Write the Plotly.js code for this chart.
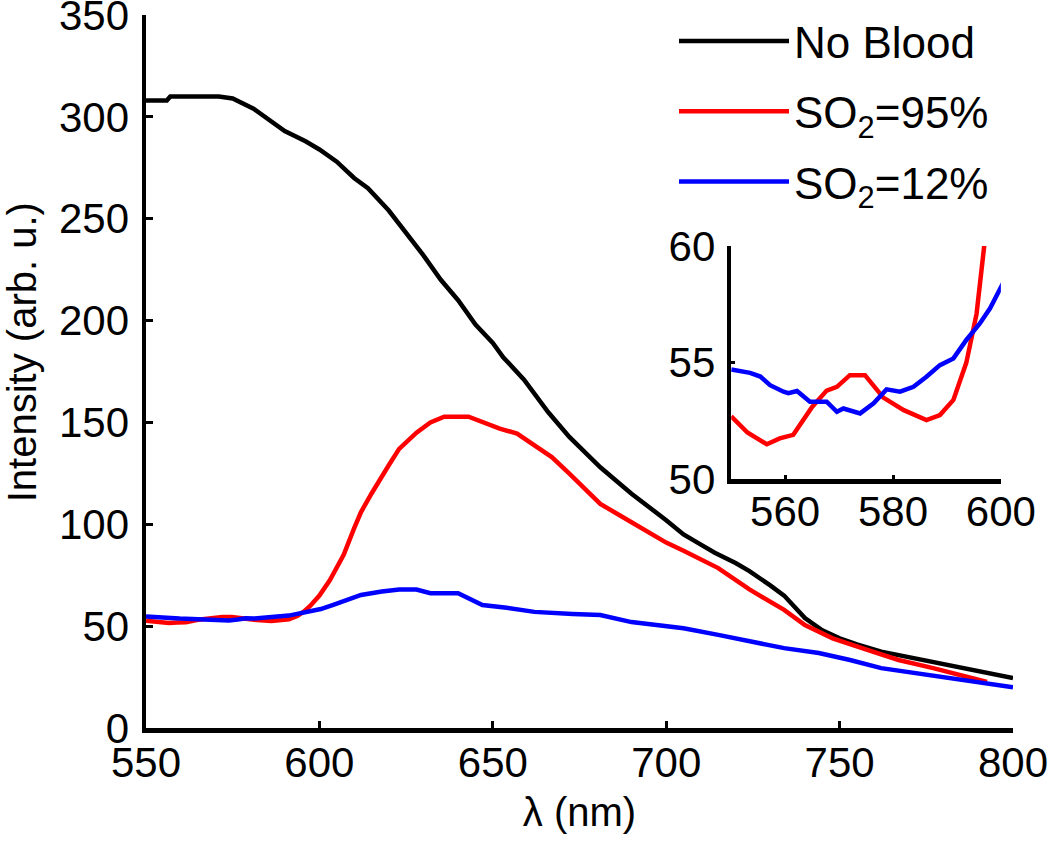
<!DOCTYPE html>
<html>
<head>
<meta charset="utf-8">
<script src="https://cdn.plot.ly/plotly-3.0.1.min.js"></script>
<style>html,body{margin:0;padding:0;background:#fff;}#chart{width:1050px;height:843px;}</style>
</head>
<body>
<div id="chart"></div>
<script>
// Wavelength (nm) and intensity (arb. u.)
const lambdaNoBlood = [550, 556, 557, 571, 575, 581, 590, 596, 600, 605, 610, 614, 620, 625, 630, 635, 640, 645, 650, 653, 659, 666, 672, 681, 690, 700, 705, 710, 714, 720, 724, 730, 734, 740, 745, 750, 755, 762, 772, 782, 791, 800];
const noBlood = [308, 308, 310, 310, 309, 304, 293, 288, 284, 278, 270, 265, 254, 243, 232, 220, 210, 198, 189, 182, 171, 155, 143, 128, 115, 102, 95, 90, 86, 81, 77, 70, 65, 54, 48, 44, 41, 37.5, 34, 31, 27.5, 24.5];

const lambdaSO2_95 = [550, 553, 556.6, 559, 561.5, 565, 567.7, 569.6, 572, 574.8, 578.2, 582, 586.2, 588.7, 591.2, 593.6, 595.5, 597.4, 600, 603, 607, 610, 612, 615, 617, 620, 623, 628, 632, 636, 643, 647, 652, 657, 664, 667, 672, 681, 690, 700, 705, 710, 715, 724, 734, 740, 748, 758, 767, 777, 787, 792.5];
const so2_95 = [52.7, 52.0, 51.5, 51.75, 51.9, 53.1, 53.8, 53.96, 54.46, 54.46, 53.5, 52.96, 52.53, 52.75, 53.4, 55.0, 57.1, 60.0, 65, 72.5, 85, 98, 106, 115, 121, 129, 137, 145, 150, 152.8, 152.8, 150, 147, 144.5, 136.5, 133, 125, 110, 101, 91, 87, 82.5, 78.5, 68, 58, 50.5, 44, 38.3, 33.4, 29.4, 25, 22.6];

const lambdaSO2_12 = [550, 553.5, 555.4, 557.2, 559.7, 560.6, 562.2, 564.6, 567.7, 569.6, 570.8, 573.9, 576.4, 578.8, 581.3, 583.8, 586.2, 588.7, 591.2, 593.6, 596.1, 598, 600.4, 604, 608, 612, 618, 623, 628, 632, 640, 647, 654, 662, 673, 681, 690, 695, 705, 715, 724, 734, 744, 753, 762, 772, 782, 791, 800];
const so2_12 = [54.7, 54.56, 54.4, 54.03, 53.75, 53.69, 53.78, 53.32, 53.32, 52.89, 53.03, 52.82, 53.25, 53.85, 53.75, 53.96, 54.39, 54.89, 55.18, 55.97, 56.68, 57.33, 58.4, 60.4, 63, 65.3, 67, 68, 68, 66.2, 66.2, 60.4, 59, 57, 56, 55.5, 52, 51, 49, 45.7, 42.4, 39.2, 36.8, 33.4, 29.4, 27, 24.5, 22, 20];

const seriesNames = ['No Blood', 'SO<sub>2</sub>=95%', 'SO<sub>2</sub>=12%'];
const seriesColors = ['#000000', '#ff0000', '#0000ff'];
const xTitle = 'λ (nm)';
const yTitle = 'Intensity (arb. u.)';

const FONT = 'Liberation Sans, Arial, Helvetica, sans-serif';
const LW = 4.5;

const traces = [
  {x: lambdaNoBlood, y: noBlood, name: seriesNames[0], legendgroup: 'a', mode: 'lines', line: {color: seriesColors[0], width: LW}, xaxis: 'x', yaxis: 'y'},
  {x: lambdaSO2_95, y: so2_95, name: seriesNames[1], legendgroup: 'b', mode: 'lines', line: {color: seriesColors[1], width: LW}, xaxis: 'x', yaxis: 'y'},
  {x: lambdaSO2_12, y: so2_12, name: seriesNames[2], legendgroup: 'c', mode: 'lines', line: {color: seriesColors[2], width: LW}, xaxis: 'x', yaxis: 'y'},
  {x: lambdaSO2_95, y: so2_95, name: seriesNames[1], mode: 'lines', line: {color: seriesColors[1], width: LW}, xaxis: 'x2', yaxis: 'y2', showlegend: false},
  {x: lambdaSO2_12, y: so2_12, name: seriesNames[2], mode: 'lines', line: {color: seriesColors[2], width: LW}, xaxis: 'x2', yaxis: 'y2', showlegend: false}
];

const axisCommon = {
  showgrid: false, zeroline: false, showline: true, linecolor: '#000', linewidth: LW,
  ticks: 'inside', tickcolor: '#000', tickwidth: 3, ticklen: 7,
  ticklabeloverflow: 'allow', automargin: false,
  tickfont: {family: FONT, size: 42, color: '#000'}
};

const layout = {
  width: 1050, height: 843,
  margin: {l: 146, r: 37, t: 15, b: 115, autoexpand: false},
  paper_bgcolor: '#fff', plot_bgcolor: 'rgba(0,0,0,0)',
  font: {family: FONT, color: '#000'},
  showlegend: true,
  legend: {
    x: 0.609, xanchor: 'left',
    y: 0.9929, yref: 'container', yanchor: 'top',
    bgcolor: 'rgba(255,255,255,0)', borderwidth: 0,
    font: {family: FONT, size: 44, color: '#000'},
    itemwidth: 110, traceorder: 'grouped', tracegroupgap: 10
  },
  xaxis: Object.assign({}, axisCommon, {
    domain: [0, 1], range: [550, 800], tickvals: [550, 600, 650, 700, 750, 800],
    anchor: 'y', ticklabelstandoff: -6,
    title: {text: xTitle, font: {family: FONT, size: 40, color: '#000'}, standoff: 14}
  }),
  yaxis: Object.assign({}, axisCommon, {
    domain: [0, 1], range: [0, 350], tickvals: [0, 50, 100, 150, 200, 250, 300, 350],
    anchor: 'x', ticklabelstandoff: 4
  }),
  xaxis2: Object.assign({}, axisCommon, {
    domain: [0.675, 0.986], range: [550, 600], tickvals: [560, 580, 600],
    anchor: 'y2', ticklen: 4, ticklabelstandoff: -8
  }),
  yaxis2: Object.assign({}, axisCommon, {
    domain: [0.349, 0.676], range: [50, 60], tickvals: [50, 55, 60],
    anchor: 'x2', ticklen: 4, ticklabelstandoff: 3
  }),
  annotations: [{
    text: yTitle, xref: 'paper', yref: 'paper', x: -0.143, y: 0.527,
    xanchor: 'center', yanchor: 'middle', textangle: -90, showarrow: false,
    font: {family: FONT, size: 40, color: '#000'}
  }]
};

Plotly.newPlot('chart', traces, layout, {displayModeBar: false, staticPlot: true});
</script>
</body>
</html>
